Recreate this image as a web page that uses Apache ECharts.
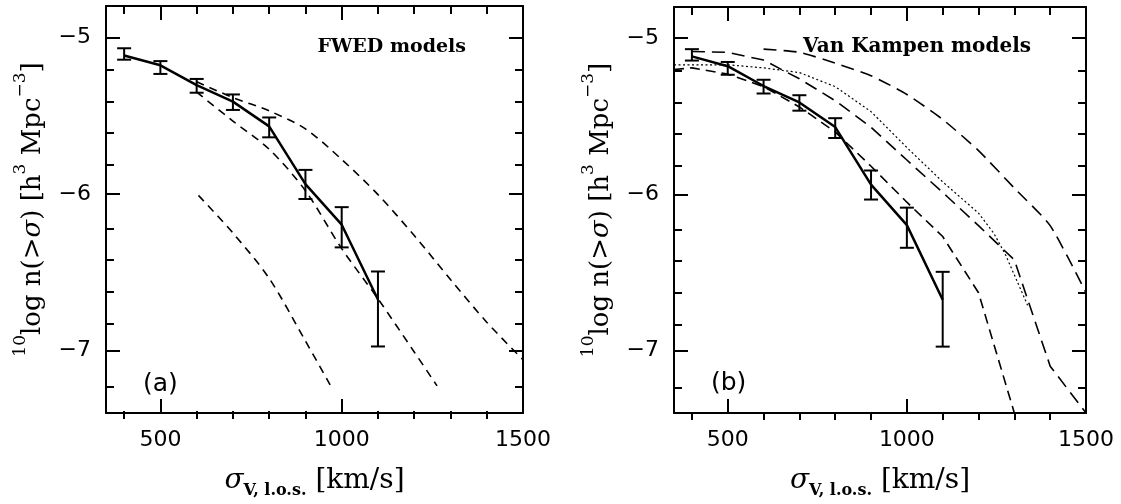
<!DOCTYPE html>
<html><head><meta charset="utf-8">
<script src="https://cdn.jsdelivr.net/npm/echarts@6/dist/echarts.min.js"></script>
<style>html,body{margin:0;padding:0;background:#fff}#c{width:1121px;height:504px}</style>
</head><body><div id="c"></div>
<script>
// ---- observed data (same in both panels)
const sigma  = [400, 500, 600, 700, 800, 900, 1000, 1100];
const logN   = [-5.116, -5.179, -5.306, -5.411, -5.569, -5.938, -6.197, -6.675];
const errHi  = [-5.070, -5.152, -5.266, -5.365, -5.512, -5.847, -6.085, -6.496];
const errLo  = [-5.143, -5.234, -5.354, -5.464, -5.639, -6.033, -6.342, -6.975];
// ---- FWED models (panel a)
const fwedUpX  = [600, 700, 800, 900, 1000, 1100, 1200, 1300, 1400, 1500];
const fwedUpY  = [-5.284, -5.385, -5.47, -5.585, -5.78, -6.005, -6.266, -6.547, -6.82, -7.06];
const fwedMidX = [600, 700, 800, 900, 1000, 1100, 1200, 1263];
const fwedMidY = [-5.35, -5.535, -5.715, -5.98, -6.35, -6.67, -7.01, -7.227];
const fwedLowX = [605, 700, 800, 900, 968];
const fwedLowY = [-6.01, -6.25, -6.54, -6.94, -7.22];
// ---- Van Kampen models (panel b)
const vkAX = [600, 700, 800, 900, 1000, 1100, 1200, 1300, 1400, 1500];
const vkAY = [-5.07, -5.09, -5.16, -5.24, -5.36, -5.52, -5.72, -5.96, -6.2, -6.63];
const vkBX = [400, 500, 600, 700, 800, 900, 1000, 1113, 1200, 1300, 1400, 1500];
const vkBY = [-5.085, -5.09, -5.14, -5.26, -5.40, -5.57, -5.78, -6.015, -6.2, -6.42, -7.1, -7.4];
const vkDotX = [350, 500, 600, 700, 800, 900, 1000, 1100, 1150, 1200, 1243, 1276, 1337];
const vkDotY = [-5.17, -5.17, -5.19, -5.22, -5.31, -5.47, -5.70, -5.92, -6.02, -6.12, -6.25, -6.39, -6.71];
const vkCX = [350, 400, 500, 600, 700, 800, 900, 1000, 1100, 1200, 1300];
const vkCY = [-5.2, -5.19, -5.23, -5.31, -5.44, -5.6, -5.82, -6.05, -6.27, -6.63, -7.4];
// ---- axes
const xRange = [350, 1500];
const yRange = [-7.4, -4.8];
const xMajorTicks = [500, 1000, 1500];
const xMinorTicks = [400, 600, 700, 800, 900, 1100, 1200, 1300, 1400];
const yMajorTicks = [-7, -6, -5];
const yMinorTicks = [-7.2, -6.8, -6.6, -6.4, -6.2, -5.8, -5.6, -5.4, -5.2];
const panelTitles = ['FWED models', 'Van Kampen models'];
const panelTags = ['(a)', '(b)'];

const serif = '"DejaVu Serif", serif';
const sans = '"DejaVu Sans", sans-serif';
const grids = [
  {left: 106, top: 6, width: 417, height: 413},
  {left: 674, top: 7, width: 412, height: 413}
];
const gridOpts = [];
grids.forEach(g => { gridOpts.push(Object.assign({}, g)); gridOpts.push(Object.assign({}, g)); });

const yName = '{sup|10}{t|log n(>}{it|σ}{t|) [h}{sup|3}{t| Mpc}{sup|−3}{t|]}';
const xName = '{it|σ}{sub|V, l.o.s.}{t| [km/s]}';

const xAxes = [], yAxes = [];
for (let p = 0; p < 2; p++) {
  for (let l = 0; l < 2; l++) {
    const g = p * 2 + l;
    const major = l === 0;
    ['bottom', 'top'].forEach((pos, k) => {
      const main = major && k === 0;
      xAxes.push({
        type: 'value', gridIndex: g, position: pos, min: xRange[0], max: xRange[1],
        axisLine: {show: major, onZero: false, lineStyle: {color: '#000', width: 2}},
        axisTick: {show: true, inside: true, length: major ? 14 : 8, customValues: major ? xMajorTicks : xMinorTicks,
                   lineStyle: {color: '#000', width: 2}},
        axisLabel: {show: main, customValues: xMajorTicks, margin: 16, fontFamily: sans, fontSize: 22, color: '#000',
                    formatter: v => String(v)},
        splitLine: {show: false},
        name: main ? xName : '', nameLocation: 'middle', nameGap: 54,
        nameTextStyle: {color: '#000', fontFamily: serif, fontSize: 28, rich: {
          t: {fontFamily: serif, fontSize: 28, color: '#000', lineHeight: 32, verticalAlign: 'top'},
          it: {fontFamily: serif, fontSize: 28, color: '#000', fontStyle: 'italic', lineHeight: 32, verticalAlign: 'top'},
          sub: {fontFamily: serif, fontSize: 16, fontWeight: 'bold', color: '#000', lineHeight: 15, verticalAlign: 'bottom'}
        }}
      });
    });
    ['left', 'right'].forEach((pos, k) => {
      const main = major && k === 0;
      yAxes.push({
        type: 'value', gridIndex: g, position: pos, min: yRange[0], max: yRange[1],
        axisLine: {show: major, onZero: false, lineStyle: {color: '#000', width: 2}},
        axisTick: {show: true, inside: true, length: major ? 14 : 8, customValues: major ? yMajorTicks : yMinorTicks,
                   lineStyle: {color: '#000', width: 2}},
        axisLabel: {show: main, customValues: yMajorTicks, margin: 15, fontFamily: sans, fontSize: 22, color: '#000',
                    formatter: v => String(v).replace('-', '−')},
        splitLine: {show: false},
        name: main ? yName : '', nameLocation: 'middle', nameGap: 60, nameRotate: 90,
        nameTextStyle: {color: '#000', fontFamily: serif, fontSize: 26, rich: {
          t: {fontFamily: serif, fontSize: 26, color: '#000', lineHeight: 34, verticalAlign: 'bottom'},
          it: {fontFamily: serif, fontSize: 26, color: '#000', fontStyle: 'italic', lineHeight: 34, verticalAlign: 'bottom'},
          sup: {fontFamily: serif, fontSize: 17, color: '#000', lineHeight: 17, verticalAlign: 'top'}
        }}
      });
    });
  }
}

const zip = (xs, ys) => xs.map((x, i) => [x, ys[i]]);
function lineSeries(p, xs, ys, dash, width, smooth) {
  return {type: 'line', xAxisIndex: 4 * p, yAxisIndex: 4 * p, data: zip(xs, ys), showSymbol: false,
          smooth: smooth, silent: true, lineStyle: {color: '#000', width: width, type: dash}};
}
function errSeries(p) {
  return {type: 'custom', xAxisIndex: 4 * p, yAxisIndex: 4 * p, silent: true,
    data: sigma.map((s, i) => [s, errLo[i], errHi[i]]),
    encode: {x: 0, y: [1, 2]},
    renderItem: (params, api) => {
      const x = api.value(0);
      const lo = api.coord([x, api.value(1)]);
      const hi = api.coord([x, api.value(2)]);
      const w = 7, st = {stroke: '#000', lineWidth: 2};
      return {type: 'group', children: [
        {type: 'line', shape: {x1: lo[0], y1: lo[1], x2: hi[0], y2: hi[1]}, style: st},
        {type: 'line', shape: {x1: lo[0] - w, y1: lo[1], x2: lo[0] + w, y2: lo[1]}, style: st},
        {type: 'line', shape: {x1: hi[0] - w, y1: hi[1], x2: hi[0] + w, y2: hi[1]}, style: st}
      ]};
    }};
}

const series = [];
for (let p = 0; p < 2; p++) {
  series.push(lineSeries(p, sigma, logN, 'solid', 2.5, false));
  series.push(errSeries(p));
}
series.push(lineSeries(0, fwedUpX, fwedUpY, [8, 6], 1.6, 0.3));
series.push(lineSeries(0, fwedMidX, fwedMidY, [8, 6], 1.6, 0.3));
series.push(lineSeries(0, fwedLowX, fwedLowY, [8, 6], 1.6, 0.3));
series.push(lineSeries(1, vkAX, vkAY, [13, 7], 1.6, 0.2));
series.push(lineSeries(1, vkBX, vkBY, [13, 7], 1.6, false));
series.push(lineSeries(1, vkDotX, vkDotY, [2, 2.5], 1.2, false));
series.push(lineSeries(1, vkCX, vkCY, [10, 6], 1.6, false));

const titles = [
  {text: panelTitles[0], right: 1121 - 466, top: 38, textStyle: {fontFamily: serif, fontWeight: 'bold', fontSize: 19, color: '#000'}},
  {text: panelTitles[1], right: 1121 - 1031, top: 37, textStyle: {fontFamily: serif, fontWeight: 'bold', fontSize: 20, color: '#000'}},
  {text: panelTags[0], left: 143, top: 372, textStyle: {fontFamily: sans, fontWeight: 'normal', fontSize: 25, color: '#000'}},
  {text: panelTags[1], left: 711, top: 371, textStyle: {fontFamily: sans, fontWeight: 'normal', fontSize: 25, color: '#000'}}
];
titles.forEach(t => { t.padding = 0; });

const chart = echarts.init(document.getElementById('c'), null, {renderer: 'canvas'});
chart.setOption({
  animation: false, backgroundColor: '#fff',
  title: titles, grid: gridOpts, xAxis: xAxes, yAxis: yAxes, series: series
});
</script></body></html>
